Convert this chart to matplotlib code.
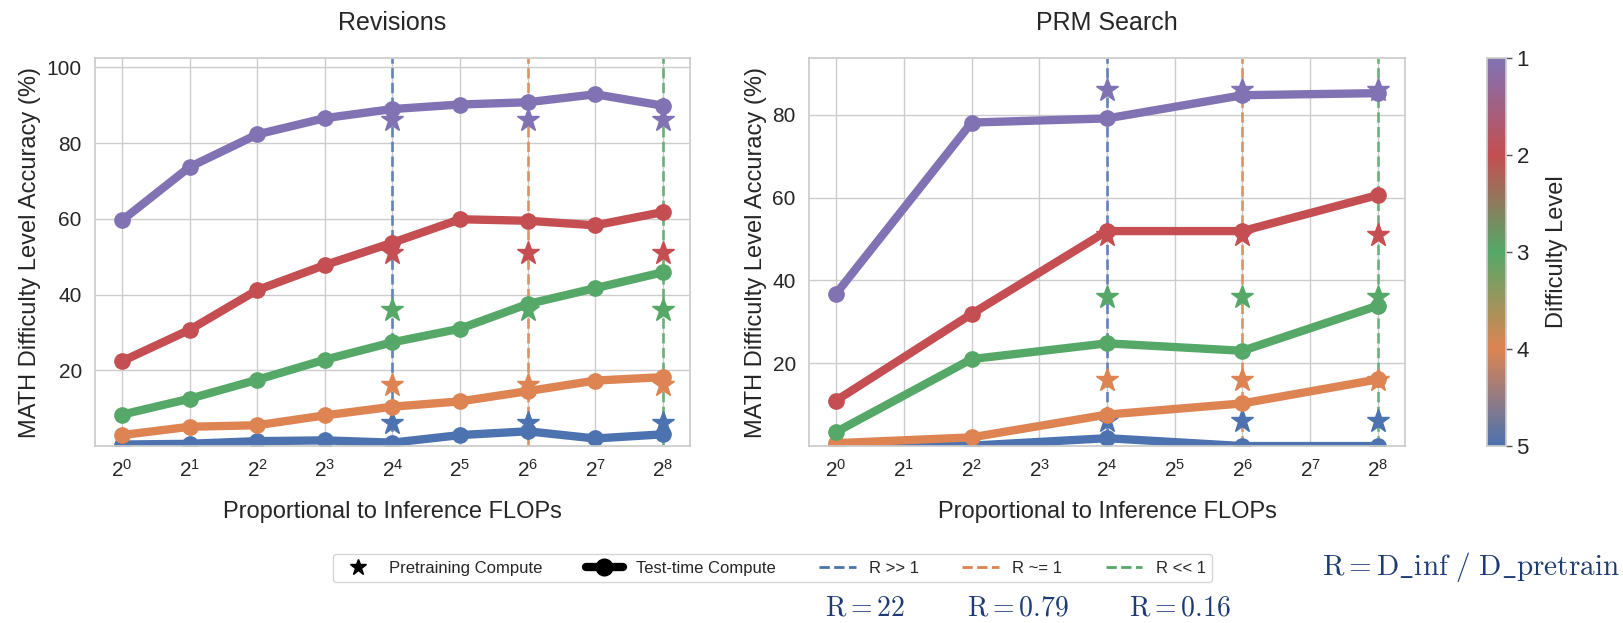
import matplotlib
matplotlib.use('Agg')
import matplotlib.pyplot as plt
import seaborn as sns
from matplotlib.colors import LinearSegmentedColormap, Normalize
from matplotlib.cm import ScalarMappable
from matplotlib.lines import Line2D

sns.set_theme(style='whitegrid')
plt.rcParams['font.family'] = ['Liberation Sans', 'DejaVu Sans']

# difficulty levels, drawn hardest first
levels = [5, 4, 3, 2, 1]
level_colors = {1: '#8172B3', 2: '#C44E52', 3: '#55A868', 4: '#DD8452', 5: '#4C72B0'}

rev_x = [1, 2, 4, 8, 16, 32, 64, 128, 256]
rev_acc = {
    1: [59.6, 73.7, 82.3, 86.6, 89.0, 90.2, 90.8, 92.9, 89.9],
    2: [22.4, 30.7, 41.2, 47.8, 53.7, 59.9, 59.5, 58.3, 61.8],
    3: [8.3, 12.5, 17.5, 22.8, 27.4, 31.0, 37.5, 41.7, 45.9],
    4: [2.9, 5.1, 5.5, 8.1, 10.4, 11.8, 14.5, 17.3, 18.2],
    5: [0.4, 0.6, 1.3, 1.5, 0.9, 2.9, 3.9, 2.0, 3.1],
}

prm_x = [1, 4, 16, 64, 256]
prm_acc = {
    1: [36.8, 78.1, 79.1, 84.7, 85.2],
    2: [11.0, 31.9, 51.9, 51.9, 60.6],
    3: [3.4, 21.0, 24.8, 23.0, 33.9],
    4: [0.7, 2.1, 7.6, 10.3, 16.1],
    5: [0.1, 0.1, 1.9, 0.0, 0.0],
}

# pretraining compute (stars)
star_x = [16, 64, 256]
star_acc = {1: 86, 2: 51, 3: 36, 4: 16, 5: 6}

ratio_x = [16, 64, 256]
ratio_names = ['R >> 1', 'R ~= 1', 'R << 1']
ratio_colors = ['#4C72B0', '#DD8452', '#55A868']
ratio_values = ['22', '0.79', '0.16']


def draw_panel(ax, x, acc, title, ylim, yticks):
    for xv, c in zip(ratio_x, ratio_colors):
        ax.axvline(xv, color=c, ls='--', lw=2, alpha=0.8, zorder=1.5)
    for i, lvl in enumerate(levels):
        c = level_colors[lvl]
        ax.plot(x, acc[lvl], color=c, lw=6, marker='o', ms=11, zorder=2 + i * 0.1)
        ax.plot(star_x, [star_acc[lvl]] * len(star_x), ls='none', marker='*',
                ms=17, color=c, zorder=2.05 + i * 0.1)
    ax.set_xscale('log', base=2)
    ax.set_xticks(rev_x)
    ax.minorticks_off()
    ax.set_ylim(*ylim)
    ax.set_yticks(yticks)
    ax.tick_params(labelsize=15)
    ax.set_title(title, fontsize=18, pad=20)
    ax.set_xlabel('Proportional to Inference FLOPs', fontsize=17, labelpad=14)
    ax.set_ylabel('MATH Difficulty Level Accuracy (%)', fontsize=17)


fig = plt.figure(figsize=(16.23, 6.23), dpi=100)
ax1 = fig.add_axes([0.0585, 0.284, 0.3666, 0.623])
ax2 = fig.add_axes([0.4985, 0.284, 0.3672, 0.623])
cax = fig.add_axes([0.9162, 0.284, 0.0117, 0.623])

draw_panel(ax1, rev_x, rev_acc, 'Revisions', (0, 102.5), [20, 40, 60, 80, 100])
draw_panel(ax2, prm_x, prm_acc, 'PRM Search', (0, 93.7), [20, 40, 60, 80])

cmap = LinearSegmentedColormap.from_list('difficulty', [level_colors[k] for k in [1, 2, 3, 4, 5]])
sm = ScalarMappable(norm=Normalize(1, 5), cmap=cmap)
cb = fig.colorbar(sm, cax=cax, ticks=[1, 2, 3, 4, 5])
cax.invert_yaxis()
cb.outline.set_edgecolor('#cccccc')
cax.tick_params(labelsize=16, length=4, width=1, color='#555555')
cb.set_label('Difficulty Level', fontsize=17, labelpad=12)

handles = [
    Line2D([], [], ls='none', marker='*', color='black', ms=12),
    Line2D([], [], color='black', lw=6, marker='o', ms=12),
] + [Line2D([], [], color=c, ls='--', lw=2) for c in ratio_colors]
labels = ['Pretraining Compute', 'Test-time Compute'] + ratio_names
fig.legend(handles, labels, loc='center', bbox_to_anchor=(0.476, 0.088), ncol=5,
           fontsize=12, frameon=True, edgecolor='#cccccc', fancybox=True,
           columnspacing=2.6, handlelength=2.2)

navy = '#1f3b73'
fig.text(0.998, 0.09, r'$\mathrm{R = D\_inf\ /\ D\_pretrain}$', ha='right', va='center',
         fontsize=21, color=navy, math_fontfamily='cm')
for xc, v in zip([865, 1018, 1180], ratio_values):
    fig.text(xc / 1623, 0.024, r'$\mathrm{R = %s}$' % v, ha='center', va='center',
             fontsize=20, color=navy, math_fontfamily='cm')

fig.savefig('out.png', dpi=100)
